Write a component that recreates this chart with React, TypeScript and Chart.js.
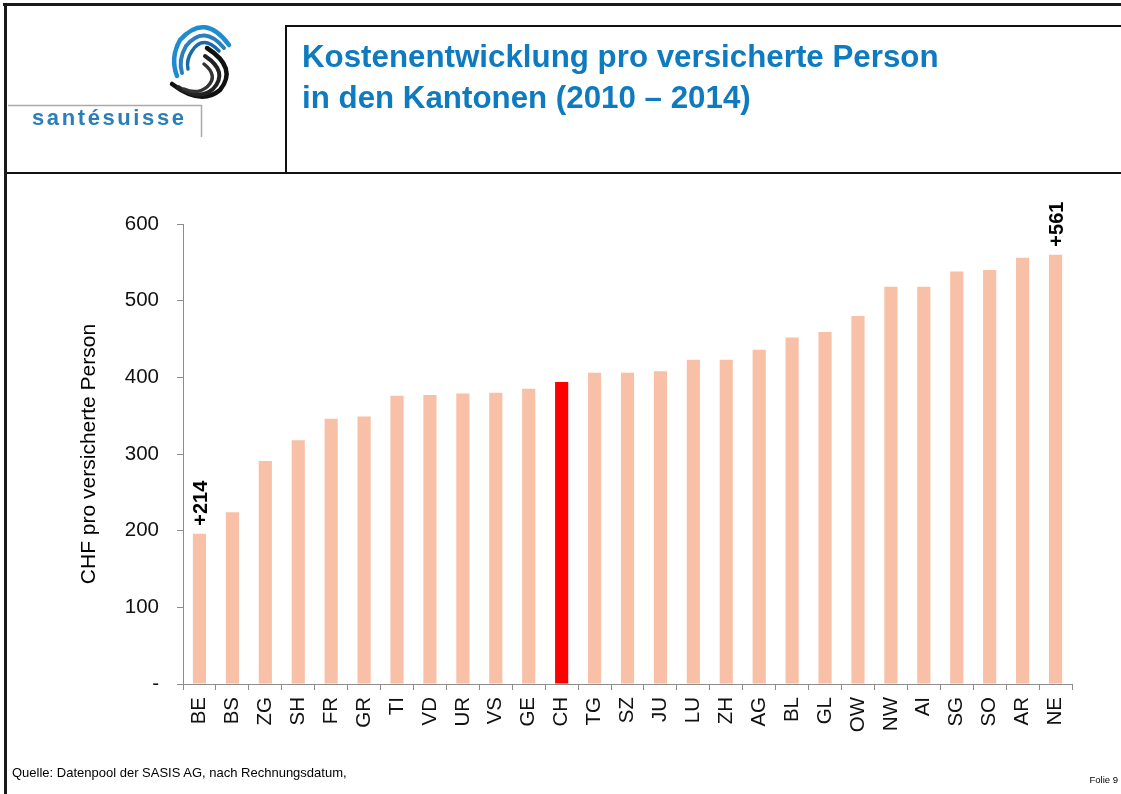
import React, { useEffect, useRef } from "react";
import { Chart, registerables } from "chart.js";

Chart.register(...registerables);

// ---- Data ----
const cantons = [
  "BE", "BS", "ZG", "SH", "FR", "GR", "TI", "VD", "UR", "VS", "GE", "CH", "TG", "SZ",
  "JU", "LU", "ZH", "AG", "BL", "GL", "OW", "NW", "AI", "SG", "SO", "AR", "NE",
];
const costIncrease = [
  196, 224, 291, 318, 346, 349, 376, 377, 379, 380, 385, 394, 406, 406,
  408, 423, 423, 436, 452, 459, 480, 518, 518, 538, 540, 556, 560,
];
const highlightCanton = "CH";
const annotatedCantons = ["BE", "NE"];
const annotationTexts = ["+214", "+561"];
const yTickValues = [0, 100, 200, 300, 400, 500, 600];

const titleLines = [
  "Kostenentwicklung pro versicherte Person",
  "in den Kantonen (2010 \u2013 2014)",
];
const yAxisTitle = "CHF pro versicherte Person";
const sourceNote = "Quelle: Datenpool der SASIS AG, nach Rechnungsdatum,";
const slideNumber = "Folie 9";

const FONT = "'Liberation Sans', Arial, Helvetica, sans-serif";
const BAR_COLOR = "#F7C0A7";
const HIGHLIGHT_COLOR = "#FF0000";
const AXIS_COLOR = "#8c8c8c";

const barLabelPlugin = {
  id: "barLabels",
  afterDatasetsDraw(chart: any) {
    const meta = chart.getDatasetMeta(0);
    const ctx = chart.ctx;
    ctx.save();
    ctx.font = `bold 20px ${FONT}`;
    ctx.fillStyle = "#000";
    ctx.textAlign = "left";
    ctx.textBaseline = "middle";
    annotatedCantons.forEach((c, k) => {
      const i = cantons.indexOf(c);
      const el = meta.data[i];
      if (!el) return;
      ctx.save();
      ctx.translate(el.x + 2, el.y - 8);
      ctx.rotate(-Math.PI / 2);
      ctx.fillText(annotationTexts[k], 0, 0);
      ctx.restore();
    });
    ctx.restore();
  },
};

function Logo() {
  return (
    <div style={{ position: "absolute", left: 0, top: 0, width: 286, height: 173 }}>
      <svg width={286} height={173} style={{ position: "absolute", left: 0, top: 0 }}>
        <g fill="none" strokeLinecap="round">
          <path d="M 229 45 Q 205 12 180 40 Q 170 58 177 76" stroke="#1f8ccf" strokeWidth={4.5} />
          <path d="M 224 48 Q 204 24 186 46 Q 178 60 182 73" stroke="#2a7fc0" strokeWidth={4} />
          <path d="M 219 51 Q 203 34 192 51 Q 186 60 188 69" stroke="#1b6aa8" strokeWidth={3.5} />
          <path d="M 207 48 Q 238 68 220 90 Q 201 106 172 84" stroke="#111" strokeWidth={4.5} />
          <path d="M 205 56 Q 229 72 213 89 Q 199 101 178 87" stroke="#222" strokeWidth={4} />
          <path d="M 204 64 Q 219 76 207 87 Q 197 95 184 89" stroke="#333" strokeWidth={3.5} />
        </g>
        <line x1={8} y1={105.5} x2={201.5} y2={105.5} stroke="#a9a9a9" strokeWidth={1.5} />
        <line x1={201.5} y1={105} x2={201.5} y2={137} stroke="#a9a9a9" strokeWidth={1.5} />
      </svg>
      <div
        style={{
          position: "absolute",
          left: 32,
          top: 105,
          fontFamily: FONT,
          fontWeight: "bold",
          fontSize: 22,
          letterSpacing: 2.6,
          color: "#2b7fb8",
          lineHeight: "26px",
          whiteSpace: "nowrap",
        }}
      >
        santésuisse
      </div>
    </div>
  );
}

export default function App() {
  const canvasRef = useRef<HTMLCanvasElement | null>(null);

  useEffect(() => {
    if (!canvasRef.current) return;
    Chart.defaults.font.family = FONT;
    const chart = new Chart(canvasRef.current, {
      type: "bar",
      data: {
        labels: cantons,
        datasets: [
          {
            data: costIncrease,
            backgroundColor: cantons.map((c) => (c === highlightCanton ? HIGHLIGHT_COLOR : BAR_COLOR)),
            borderWidth: 0,
            barPercentage: 0.4,
            categoryPercentage: 1.0,
          },
        ],
      },
      options: {
        animation: false,
        responsive: false,
        devicePixelRatio: 1,
        layout: { padding: { left: 77, top: 224, right: 49, bottom: 0 } },
        plugins: {
          legend: { display: false },
          tooltip: { enabled: false },
          title: { display: false },
        },
        scales: {
          x: {
            grid: {
              offset: true,
              drawOnChartArea: false,
              drawTicks: true,
              tickLength: 6,
              color: AXIS_COLOR,
            },
            border: { color: AXIS_COLOR, width: 1 },
            ticks: {
              autoSkip: false,
              maxRotation: 90,
              minRotation: 90,
              padding: 7,
              color: "#111",
              font: { size: 20.5, family: FONT },
            },
            afterFit: (s: any) => {
              s.height = 110;
            },
          },
          y: {
            min: 0,
            max: 600,
            afterBuildTicks: (s: any) => {
              s.ticks = yTickValues.map((v) => ({ value: v }));
            },
            grid: {
              drawOnChartArea: false,
              drawTicks: true,
              tickLength: 6,
              color: AXIS_COLOR,
            },
            border: { color: AXIS_COLOR, width: 1 },
            ticks: {
              padding: 18,
              color: "#111",
              font: { size: 20.5, family: FONT },
              callback: (v: any) => (Number(v) === 0 ? "-" : String(v)),
            },
            title: {
              display: true,
              text: yAxisTitle,
              color: "#000",
              padding: 0,
              font: { size: 21, family: FONT },
            },
            afterFit: (s: any) => {
              s.width = 106;
            },
          },
        },
      },
      plugins: [barLabelPlugin],
    });
    return () => chart.destroy();
  }, []);

  return (
    <div
      style={{
        position: "absolute",
        left: 0,
        top: 0,
        width: 1121,
        height: 794,
        background: "#fff",
        overflow: "hidden",
        fontFamily: FONT,
      }}
    >
      <canvas
        ref={canvasRef}
        width={1121}
        height={794}
        style={{ position: "absolute", left: 0, top: 0, width: 1121, height: 794 }}
      />
      {/* slide frame */}
      <div style={{ position: "absolute", left: 3, top: 3, width: 1118, height: 3, background: "#1a1a1a" }} />
      <div style={{ position: "absolute", left: 4, top: 3, width: 3, height: 791, background: "#1a1a1a" }} />
      <div style={{ position: "absolute", left: 7, top: 172, width: 1114, height: 2, background: "#111" }} />
      <div style={{ position: "absolute", left: 285, top: 25, width: 2, height: 148, background: "#111" }} />
      <div style={{ position: "absolute", left: 285, top: 25, width: 836, height: 2, background: "#111" }} />
      <Logo />
      <div
        style={{
          position: "absolute",
          left: 302,
          top: 36,
          fontWeight: "bold",
          fontSize: 31.3,
          lineHeight: "41px",
          color: "#0E7BC0",
          whiteSpace: "nowrap",
        }}
      >
        {titleLines.map((l, i) => (
          <div key={i}>{l}</div>
        ))}
      </div>
      <div
        style={{
          position: "absolute",
          left: 12,
          top: 765,
          fontSize: 13,
          color: "#000",
          whiteSpace: "nowrap",
        }}
      >
        {sourceNote}
      </div>
      <div
        style={{
          position: "absolute",
          right: 3,
          top: 774,
          fontSize: 9.5,
          color: "#000",
          whiteSpace: "nowrap",
        }}
      >
        {slideNumber}
      </div>
    </div>
  );
}
